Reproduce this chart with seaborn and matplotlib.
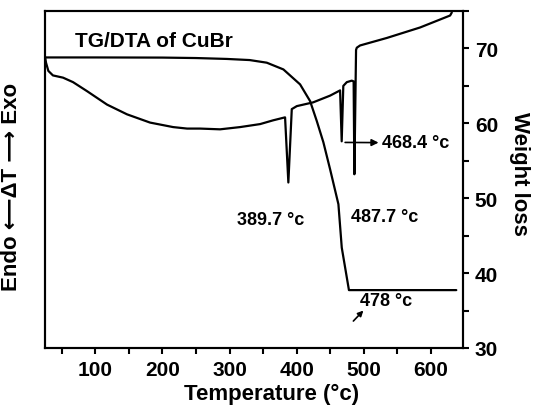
import matplotlib
matplotlib.use("Agg")
import matplotlib.pyplot as plt
import seaborn as sns
import pandas as pd
from matplotlib.ticker import MultipleLocator

# ---- data ----
tg_temp = [25, 100, 200, 250, 296, 330, 355.5, 380.3, 405.2, 420.1, 430.1,
           439.9, 449.9, 462.3, 467.3, 478.0, 638.0]
tg_weight = [68.8, 68.8, 68.78, 68.72, 68.6, 68.45, 68.1, 67.2, 65.2, 62.97, 60.3,
             57.47, 53.87, 49.2, 43.4, 37.73, 37.73]

dta_temp = [25.0, 26.5, 30.0, 36.8, 51.9, 66.8, 87.6, 117.5, 147.3, 181.6, 215.9,
            236.8, 256.1, 285.9, 315.8, 345.6, 364.9, 382.8, 387.7, 392.8, 400.3,
            424.6, 449.9, 464.8, 467.2, 469.6, 474.8, 482.2, 485.0, 486.1, 488.6,
            489.7, 494.6, 534.4, 584.0, 628.8, 631.3]
dta_signal = [68.9, 68.1, 67.0, 66.4, 66.1, 65.5, 64.3, 62.5, 61.2, 60.1, 59.5,
              59.3, 59.3, 59.2, 59.5, 59.9, 60.4, 60.8, 52.1, 61.9, 62.3,
              62.8, 63.7, 64.4, 57.6, 65.0, 65.5, 65.7, 65.6, 53.2, 69.8,
              70.1, 70.4, 71.4, 72.8, 74.4, 74.8]

x_ticks = [100, 200, 300, 400, 500, 600]
y_ticks = [30, 40, 50, 60, 70]
peak_labels = ["389.7 °c", "487.7 °c", "468.4 °c", "478 °c"]

tg_df = pd.DataFrame({"Temperature": tg_temp, "Weight": tg_weight})
dta_df = pd.DataFrame({"Temperature": dta_temp, "Signal": dta_signal})

sns.set_style("ticks")
plt.rcParams["font.family"] = ["Liberation Sans", "DejaVu Sans"]
plt.rcParams["font.weight"] = "bold"
plt.rcParams["axes.linewidth"] = 1.5
for k in ("text.color", "axes.labelcolor", "xtick.color", "ytick.color",
          "axes.edgecolor"):
    plt.rcParams[k] = "black"

fig = plt.figure(figsize=(5.39, 4.10), dpi=100)
ax = fig.add_axes([0.0835, 0.1488, 0.859 - 0.0835, 0.9707 - 0.1488])
ax2 = ax.twinx()

sns.lineplot(data=dta_df, x="Temperature", y="Signal", ax=ax, color="black",
             lw=1.6, sort=False, estimator=None)
sns.lineplot(data=tg_df, x="Temperature", y="Weight", ax=ax2, color="black",
             lw=1.6, sort=False, estimator=None)

for a in (ax, ax2):
    a.set_xlim(25, 648)
    a.set_ylim(30, 75)
    for s in a.spines.values():
        s.set_visible(True)
        s.set_linewidth(1.5)
        s.set_color("black")

ax.set_yticks([])
ax.set_xticks(x_ticks)
ax.xaxis.set_minor_locator(MultipleLocator(50))
ax.tick_params(axis="x", which="major", direction="out", length=4.5, width=1.5,
               labelsize=15, pad=4, colors="black")
ax.tick_params(axis="x", which="minor", direction="out", length=4, width=1.5,
               colors="black")
for lab in ax.get_xticklabels():
    lab.set_fontweight("bold")

ax2.set_yticks(y_ticks)
ax2.yaxis.set_minor_locator(MultipleLocator(5))
ax2.tick_params(axis="y", which="major", direction="out", length=4.5, width=1.5,
                labelsize=15, pad=4, colors="black")
ax2.tick_params(axis="y", which="minor", direction="out", length=4, width=1.5,
                colors="black")
for lab in ax2.get_yticklabels():
    lab.set_fontweight("bold")

ax.set_xlabel("Temperature (°c)", fontsize=16, fontweight="bold", color="black")
ax.xaxis.set_label_coords(0.542, -0.105)
ax.set_ylabel("Endo \u27f5\u0394T \u27f6 Exo", fontsize=16, fontweight="bold",
              color="black")
ax.yaxis.set_label_coords(-0.055, 0.48)
ax2.set_ylabel("Weight loss", fontsize=16, fontweight="bold", rotation=270,
               color="black")
ax2.yaxis.set_label_coords(1.16, 0.52)

ax2.text(69.8, 71.0, "TG/DTA of CuBr", fontsize=15, fontweight="bold",
         ha="left", va="center", color="black")
ax2.text(311.3, 47.2, peak_labels[0], fontsize=13, fontweight="bold",
         ha="left", va="center", color="black")
ax2.text(481.2, 47.5, peak_labels[1], fontsize=13, fontweight="bold",
         ha="left", va="center", color="black")
ax2.annotate(peak_labels[2], xy=(472.3, 57.45), xytext=(527, 57.4),
             fontsize=13, fontweight="bold", ha="left", va="center", color="black",
             arrowprops=dict(arrowstyle="<|-", color="black", lw=1.2,
                             mutation_scale=10, shrinkA=0, shrinkB=0))
ax2.text(494.6, 36.3, peak_labels[3], fontsize=13, fontweight="bold",
         ha="left", va="center", color="black")
ax2.annotate("", xy=(499.5, 35.0), xytext=(484.6, 33.6),
             arrowprops=dict(arrowstyle="-|>", color="black", lw=1.2,
                             mutation_scale=8, shrinkA=0, shrinkB=0))

fig.savefig("out.png", dpi=100)
